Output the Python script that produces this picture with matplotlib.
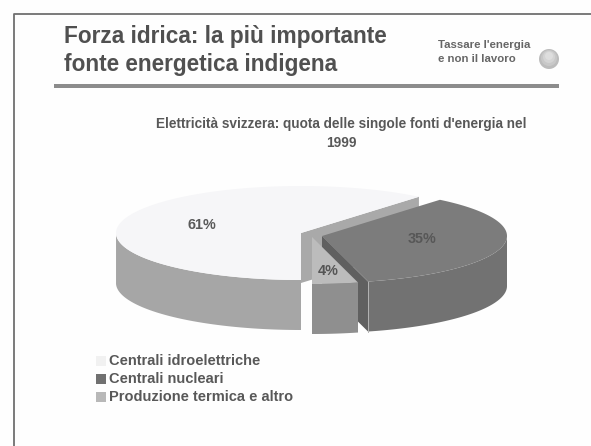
import numpy as np
import matplotlib
matplotlib.use("Agg")
import matplotlib.pyplot as plt
from matplotlib.patches import Polygon, Rectangle, Circle

labels = ["Centrali idroelettriche", "Centrali nucleari", "Produzione termica e altro"]
shares = [61, 35, 4]
share_text = ["61%", "35%", "4%"]

top_colors = ["#f6f6f8", "#7c7c7c", "#bcbcbc"]
rim_colors = ["#a6a6a6", "#727272", "#8f8f8f"]
cut_colors = ["#a9a9a9", "#606060", "#9a9a9a"]
apex = [(301, 233), (322, 236), (312, 237)]

RX, RY, DEPTH = 185, 47, 50
TXT = "#585858"
plt.rcParams["font.family"] = ["Liberation Sans", "DejaVu Sans"]


def rim_point(center, deg):
    return (center[0] + RX * np.cos(np.radians(deg)),
            center[1] - RY * np.sin(np.radians(deg)))


def arc(center, a0, a1):
    t = np.linspace(a0, a1, 120)
    return np.column_stack(rim_point(center, t))


def drop(pts):
    return pts + np.array([0, DEPTH])


# every slice runs counter clockwise, the first one ends straight at the front
a_end = 270
a_start = a_end - shares[0] * 3.6
spans = [(a_start, a_end),
         (a_end + shares[2] * 3.6, a_start + 360),
         (a_end, a_end + shares[2] * 3.6)]

fig = plt.figure(figsize=(5.91, 4.46), dpi=100, facecolor="#fefefe")
ax = fig.add_axes([0, 0, 1, 1])
ax.set_xlim(0, 591)
ax.set_ylim(446, 0)
ax.axis("off")

# slide frame
ax.plot([591, 14, 14], [14, 14, 446], color="#707070", lw=1.3)

ax.text(64, 37, "Forza idrica: la più importante", fontsize=16.3, fontweight="bold",
        color="#505050", va="center")
ax.text(64, 65, "fonte energetica indigena", fontsize=16.3, fontweight="bold",
        color="#505050", va="center")
ax.text(438, 45, "Tassare l'energia", fontsize=8.2, fontweight="bold", color="#666666", va="center")
ax.text(438, 59, "e non il lavoro", fontsize=8.2, fontweight="bold", color="#666666", va="center")

# shaded ball, stacked discs getting lighter towards the upper part
for r, dy, col in zip([10, 8, 6, 4], [0, -1, -2, -3], ["#bcbcbc", "#c8c8c8", "#d4d4d4", "#dedede"]):
    ax.add_patch(Circle((549, 59 + dy), r, color=col, lw=0))

ax.add_patch(Rectangle((54, 84), 505, 4, color="#8c8c8c", lw=0))

ax.text(341, 124, "Elettricità svizzera: quota delle singole fonti d'energia nel",
        fontsize=9.8, fontweight="bold", color=TXT, ha="center", va="center")
ax.text(341, 143, "1999", fontsize=9.8, fontweight="bold", color=TXT, ha="center", va="center")

# hydro first, then nuclear, the small slice sits in front of both
for i in [0, 1, 2]:
    c = apex[i]
    a0, a1 = spans[i]
    edge = arc(c, a0, a1)

    # face of the back cut, seen only where the next slice leaves it open
    if i < 2:
        start = np.array([rim_point(c, a0)])
        cut = np.array([c, start[0], drop(start)[0], drop(np.array([c]))[0]])
        ax.add_patch(Polygon(cut, color=cut_colors[i], lw=0))

    # outer wall, only the part of the rim facing the viewer
    vis = np.linspace(a0, a1, 240)
    vis = vis[np.sin(np.radians(vis)) <= 0]
    wall = np.column_stack(rim_point(c, vis))
    ax.add_patch(Polygon(np.vstack([wall, drop(wall)[::-1]]), color=rim_colors[i], lw=0))

    ax.add_patch(Polygon(np.vstack([[c], edge]), color=top_colors[i], lw=0))

# light seam where the nuclear wall starts
seam = rim_point(apex[1], spans[1][0])
ax.plot([seam[0], seam[0]], [seam[1], seam[1] + DEPTH], color="#b4b4b4", lw=0.7)

ax.text(202, 225, share_text[0], fontsize=10.4, fontweight="bold", color="#5a5a5a",
        ha="center", va="center")
ax.text(422, 239, share_text[1], fontsize=10.4, fontweight="bold", color="#575757",
        ha="center", va="center")
ax.text(328, 271, share_text[2], fontsize=10.4, fontweight="bold", color="#555555",
        ha="center", va="center")

# legend
leg_y = [361, 379, 397]
leg_col = ["#f1f1f1", "#707070", "#b8b8b8"]
for name, y, col in zip(labels, leg_y, leg_col):
    ax.add_patch(Rectangle((96, y - 5), 10, 10, color=col, lw=0))
    ax.text(109, y, name, fontsize=10.5, fontweight="bold", color=TXT, va="center")

fig.savefig("out.png", dpi=100, facecolor=fig.get_facecolor())
